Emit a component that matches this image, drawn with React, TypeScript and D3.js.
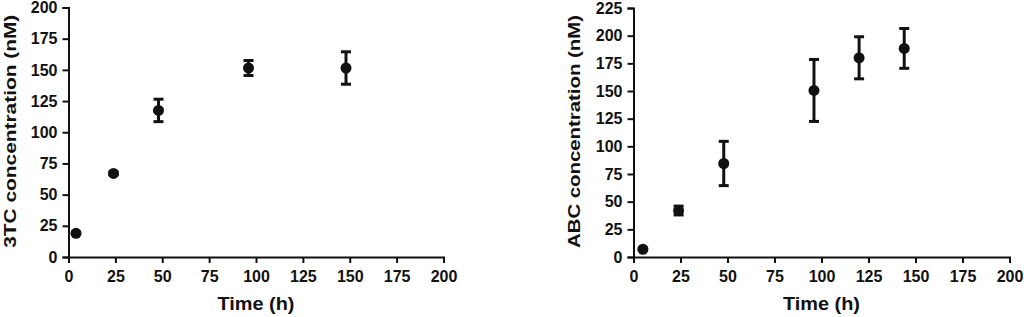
import React, { useEffect, useRef } from "react";
import * as d3 from "d3";

// Left panel: 3TC
const timeA = [4, 24, 48, 96, 148];
const meanA = [19, 67, 117.5, 151.5, 151.5];
const errA = [1, 1, 9, 6, 13];

// Right panel: ABC
const timeB = [5, 24, 48, 96, 120, 144];
const meanB = [7, 42, 84.5, 150.5, 180, 188.5];
const errB = [1, 4, 20, 28, 19, 18];

const xTicks = [0, 25, 50, 75, 100, 125, 150, 175, 200];
const yTicksA = [0, 25, 50, 75, 100, 125, 150, 175, 200];
const yTicksB = [0, 25, 50, 75, 100, 125, 150, 175, 200, 225];

const FONT = "'Liberation Sans', Arial, sans-serif";
const INK = "#111";

type Panel = {
  x0: number; x1: number; y0: number; y1: number;
  yMax: number; yTicks: number[]; yTitle: string;
  t: number[]; m: number[]; e: number[]; titleX: number;
};

const panels: Panel[] = [
  { x0: 68.5, x1: 443.5, y0: 257, y1: 7.5, yMax: 200, yTicks: yTicksA, yTitle: "3TC concentration (nM)", t: timeA, m: meanA, e: errA, titleX: 16 },
  { x0: 633.5, x1: 1009.5, y0: 257, y1: 8, yMax: 225, yTicks: yTicksB, yTitle: "ABC concentration (nM)", t: timeB, m: meanB, e: errB, titleX: 580 },
];

export default function App() {
  const ref = useRef<SVGSVGElement>(null);
  useEffect(() => {
    const svg = d3.select(ref.current);
    svg.selectAll("*").remove();
    panels.forEach((p) => {
      const x = d3.scaleLinear().domain([0, 200]).range([p.x0, p.x1]);
      const y = d3.scaleLinear().domain([0, p.yMax]).range([p.y0, p.y1]);
      const g = svg.append("g");

      const gx = g.append("g").attr("transform", `translate(0,${p.y0})`)
        .call(d3.axisBottom(x).tickValues(xTicks).tickSizeOuter(0).tickSize(6).tickPadding(5));
      const gy = g.append("g").attr("transform", `translate(${p.x0},0)`)
        .call(d3.axisLeft(y).tickValues(p.yTicks).tickSizeOuter(0).tickSize(6).tickPadding(5));
      [gx, gy].forEach((ax) => {
        ax.select(".domain").attr("stroke", INK).attr("stroke-width", 2);
        ax.selectAll(".tick line").attr("stroke", INK).attr("stroke-width", 2);
        ax.selectAll(".tick text").attr("fill", INK).attr("font-family", FONT)
          .attr("font-size", 16).attr("font-weight", "bold");
        ax.attr("font-family", null).attr("font-size", null);
      });
      gx.selectAll(".tick text").attr("dy", "0.9em");

      // x title
      g.append("text").attr("x", (p.x0 + p.x1) / 2).attr("y", 310)
        .attr("text-anchor", "middle").attr("font-family", FONT).attr("font-size", 18)
        .attr("font-weight", "bold").attr("fill", INK)
        .attr("textLength", 77).attr("lengthAdjust", "spacingAndGlyphs")
        .text("Time (h)");
      // y title
      g.append("text")
        .attr("transform", `translate(${p.titleX},${(p.y0 + p.y1) / 2 - 1}) rotate(-90)`)
        .attr("text-anchor", "middle").attr("font-family", FONT).attr("font-size", 17)
        .attr("font-weight", "bold").attr("fill", INK)
        .attr("textLength", 233).attr("lengthAdjust", "spacingAndGlyphs")
        .text(p.yTitle);

      const data = p.t.map((t, i) => ({ t, m: p.m[i], e: p.e[i] }));
      const eb = g.append("g").attr("stroke", INK).attr("stroke-width", 3);
      data.forEach((d) => {
        const cx = x(d.t);
        const yt = y(d.m + d.e), yb = y(d.m - d.e);
        eb.append("line").attr("x1", cx).attr("x2", cx).attr("y1", yt).attr("y2", yb);
        eb.append("line").attr("x1", cx - 5).attr("x2", cx + 5).attr("y1", yt).attr("y2", yt);
        eb.append("line").attr("x1", cx - 5).attr("x2", cx + 5).attr("y1", yb).attr("y2", yb);
      });
      g.append("g").selectAll("circle").data(data).join("circle")
        .attr("cx", (d) => x(d.t)).attr("cy", (d) => y(d.m)).attr("r", 5.5).attr("fill", INK);
    });
  }, []);
  return (
    <svg ref={ref} width={1024} height={317}
      style={{ position: "absolute", left: 0, top: 0, background: "#fff" }} />
  );
}
